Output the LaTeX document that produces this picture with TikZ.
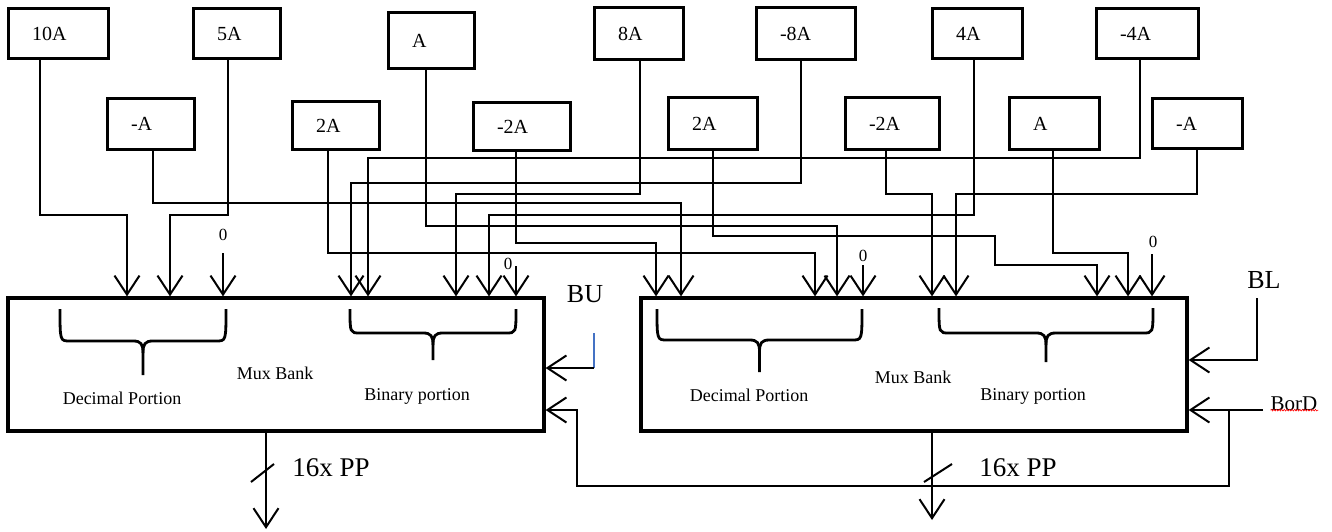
\documentclass[tikz,border=0pt]{standalone}
\usepackage{fontspec}
\setmainfont{Liberation Serif}
\usetikzlibrary{arrows.meta,decorations.pathmorphing}
\definecolor{buBlue}{RGB}{68,114,196}
\newcommand\curlyb[5]{%
  \pgfmathsetmacro\xc{(#1+#2)/2}%
  \draw[brc] (#1,#3) .. controls (#1,#4) and (#1,#4) .. (#1+10,#4) -- (\xc-10,#4) .. controls (\xc-2,#4) and (\xc,#4+3) .. (\xc,#4+12) -- (\xc,#5);
  \draw[brc] (#2,#3) .. controls (#2,#4) and (#2,#4) .. (#2-10,#4) -- (\xc+10,#4) .. controls (\xc+2,#4) and (\xc,#4+3) .. (\xc,#4+12);
}
\begin{document}
\begin{tikzpicture}[x=1pt,y=-1pt,
  tbox/.style={draw,line width=3pt,inner xsep=24pt,inner ysep=0pt,align=left,font=\fontsize{20}{24}\selectfont},
  mbox/.style={draw,line width=3.2pt,inner sep=0pt},
  wire/.style={line width=2pt,-{Straight Barb[length=19pt,width=25pt]}},
  plain/.style={line width=2pt},
  brc/.style={line width=2.8pt},
  txt/.style={inner sep=0pt,font=\fontsize{18}{21}\selectfont},
  zero/.style={inner sep=0pt,font=\fontsize{17}{20}\selectfont},
  big/.style={inner sep=0pt,font=\fontsize{26}{30}\selectfont},
  bigpp/.style={inner sep=0pt,font=\fontsize{27}{31}\selectfont}]
\useasboundingbox (0,0) rectangle (1332,532);
\fill[white] (0,0) rectangle (1332,532);

% top row boxes
\node[tbox,minimum width=100pt,minimum height=50pt,text width=52pt] (t10A) at (58,34) {10A};
\node[tbox,minimum width=87pt,minimum height=50pt,text width=39pt] (t5A) at (236.5,34) {5A};
\node[tbox,minimum width=86pt,minimum height=56pt,text width=38pt] (tA) at (431,41) {A};
\node[tbox,minimum width=89pt,minimum height=52pt,text width=41pt] (t8A) at (638.5,34) {8A};
\node[tbox,minimum width=99pt,minimum height=52pt,text width=51pt] (tm8A) at (805.5,34) {-8A};
\node[tbox,minimum width=90pt,minimum height=50pt,text width=42pt] (t4A) at (977,34) {4A};
\node[tbox,minimum width=102pt,minimum height=50pt,text width=54pt] (tm4A) at (1147,34) {-4A};
% second row boxes
\node[tbox,minimum width=87pt,minimum height=50pt,text width=39pt] (smA) at (150.5,124) {-A};
\node[tbox,minimum width=87pt,minimum height=47pt,text width=39pt] (s2A) at (335.5,125.5) {2A};
\node[tbox,minimum width=97pt,minimum height=47pt,text width=49pt] (sm2A) at (521.5,126.5) {-2A};
\node[tbox,minimum width=89pt,minimum height=51pt,text width=41pt] (s2Ab) at (712.5,123.5) {2A};
\node[tbox,minimum width=94pt,minimum height=51pt,text width=46pt] (sm2Ab) at (892,123.5) {-2A};
\node[tbox,minimum width=90pt,minimum height=51pt,text width=42pt] (sAb) at (1054,123.5) {A};
\node[tbox,minimum width=90pt,minimum height=49pt,text width=42pt] (smAb) at (1197,123.5) {-A};

% main boxes
\node[mbox,minimum width=536pt,minimum height=133pt] (mL) at (276,364.5) {};
\node[mbox,minimum width=546pt,minimum height=133pt] (mR) at (914,364.5) {};

% zero labels
\node[zero] (z1) at (223,235) {0};
\node[zero] (z2) at (508,264) {0};
\node[zero] (z3) at (863,256) {0};
\node[zero] (z4) at (1153,242) {0};
\coordinate (z1s) at (223,253);
\coordinate (z2s) at (516,266);
\coordinate (z3s) at (863,265);
\coordinate (z4s) at (1152,254);

% wires into left mux bank
\draw[wire] (t10A.south -| 40,0) |- (127,215) -- (mL.north -| 127,0);
\draw[wire] (t5A.south -| 228,0) |- (170,215) -- (mL.north -| 170,0);
\draw[wire] (z1s) -- (mL.north -| z1s);
\draw[wire] (tm8A.south -| 801,0) |- (351,183) -- (mL.north -| 351,0);
\draw[wire] (tm4A.south -| 1140,0) |- (368,158) -- (mL.north -| 368,0);
\draw[wire] (t8A.south -| 640,0) |- (456,194) -- (mL.north -| 456,0);
\draw[wire] (t4A.south -| 974,0) |- (489,215) -- (mL.north -| 489,0);
\draw[wire] (z2s) -- (mL.north -| z2s);

% wires into right mux bank
\draw[wire] (sm2A.south -| 516,0) |- (656,243) -- (mR.north -| 656,0);
\draw[wire] (smA.south -| 153,0) |- (681,203) -- (mR.north -| 681,0);
\draw[wire] (s2A.south -| 328,0) |- (815,253) -- (mR.north -| 815,0);
\draw[wire] (tA.south -| 426,0) |- (837,226) -- (mR.north -| 837,0);
\draw[wire] (z3s) -- (mR.north -| z3s);
\draw[wire] (sm2Ab.south -| 886,0) |- (932,194) -- (mR.north -| 932,0);
\draw[wire] (smAb.south -| 1197,0) |- (956,194) -- (mR.north -| 956,0);
\draw[wire] (s2Ab.south -| 713,0) |- (995,236) |- (1097,265) -- (mR.north -| 1097,0);
\draw[wire] (sAb.south -| 1053,0) |- (1128,253) -- (mR.north -| 1128,0);
\draw[wire] (z4s) -- (mR.north -| z4s);

% braces
\curlyb{60}{226}{309}{341}{375}
\curlyb{350}{516}{309}{333}{360}
\curlyb{657}{862}{309}{340}{372}
\curlyb{939}{1153}{308}{333}{362}

% inner labels
\node[txt] (decL) at (122,398) {Decimal Portion};
\node[txt] (muxL) at (275,373) {Mux Bank};
\node[txt] (binL) at (417,396) {Binary portion};
\node[txt] (decR) at (749,395) {Decimal Portion};
\node[txt] (muxR) at (913,377) {Mux Bank};
\node[txt] (binR) at (1033,396) {Binary portion};

% BU
\node[big] (BU) at (585,294) {BU};
\coordinate (buS) at (594,333);
\coordinate (buC) at (594,368);
\draw[buBlue,line width=1.6pt] (buS) -- (buC);
\draw[wire] (buC) -- (mL.east |- buC);

% BL
\node[big] (BL) at (1264,280) {BL};
\coordinate (blS) at (1257,298);
\draw[wire] (blS) |- (mR.east |- 0,360);

% BorD
\node[inner sep=0pt,font=\fontsize{21}{25}\selectfont] (BorD) at (1294,404) {BorD};
\draw[red,line width=0.6pt,decorate,decoration={snake,amplitude=0.8pt,segment length=2.6pt}] (BorD.south west) ++(0,-1) -- ++(48,0);
\coordinate (bdS) at (1263,410);
\coordinate (bdJ) at (1229,410);
\draw[wire] (bdS) -- (mR.east |- bdS);
\draw[wire] (bdJ) |- (577,486) |- (mL.east |- 0,410);

% outputs
\coordinate (outL) at (266,529);
\coordinate (outR) at (932,520);
\draw[wire] (mL.south -| outL) -- (outL);
\draw[plain] (251,482) -- (274,464);
\node[bigpp] (ppL) at (331,468) {16x PP};
\draw[wire] (mR.south -| outR) -- (outR);
\draw[plain] (924,482) -- (952,464);
\node[bigpp] (ppR) at (1018,468) {16x PP};
\end{tikzpicture}
\end{document}
